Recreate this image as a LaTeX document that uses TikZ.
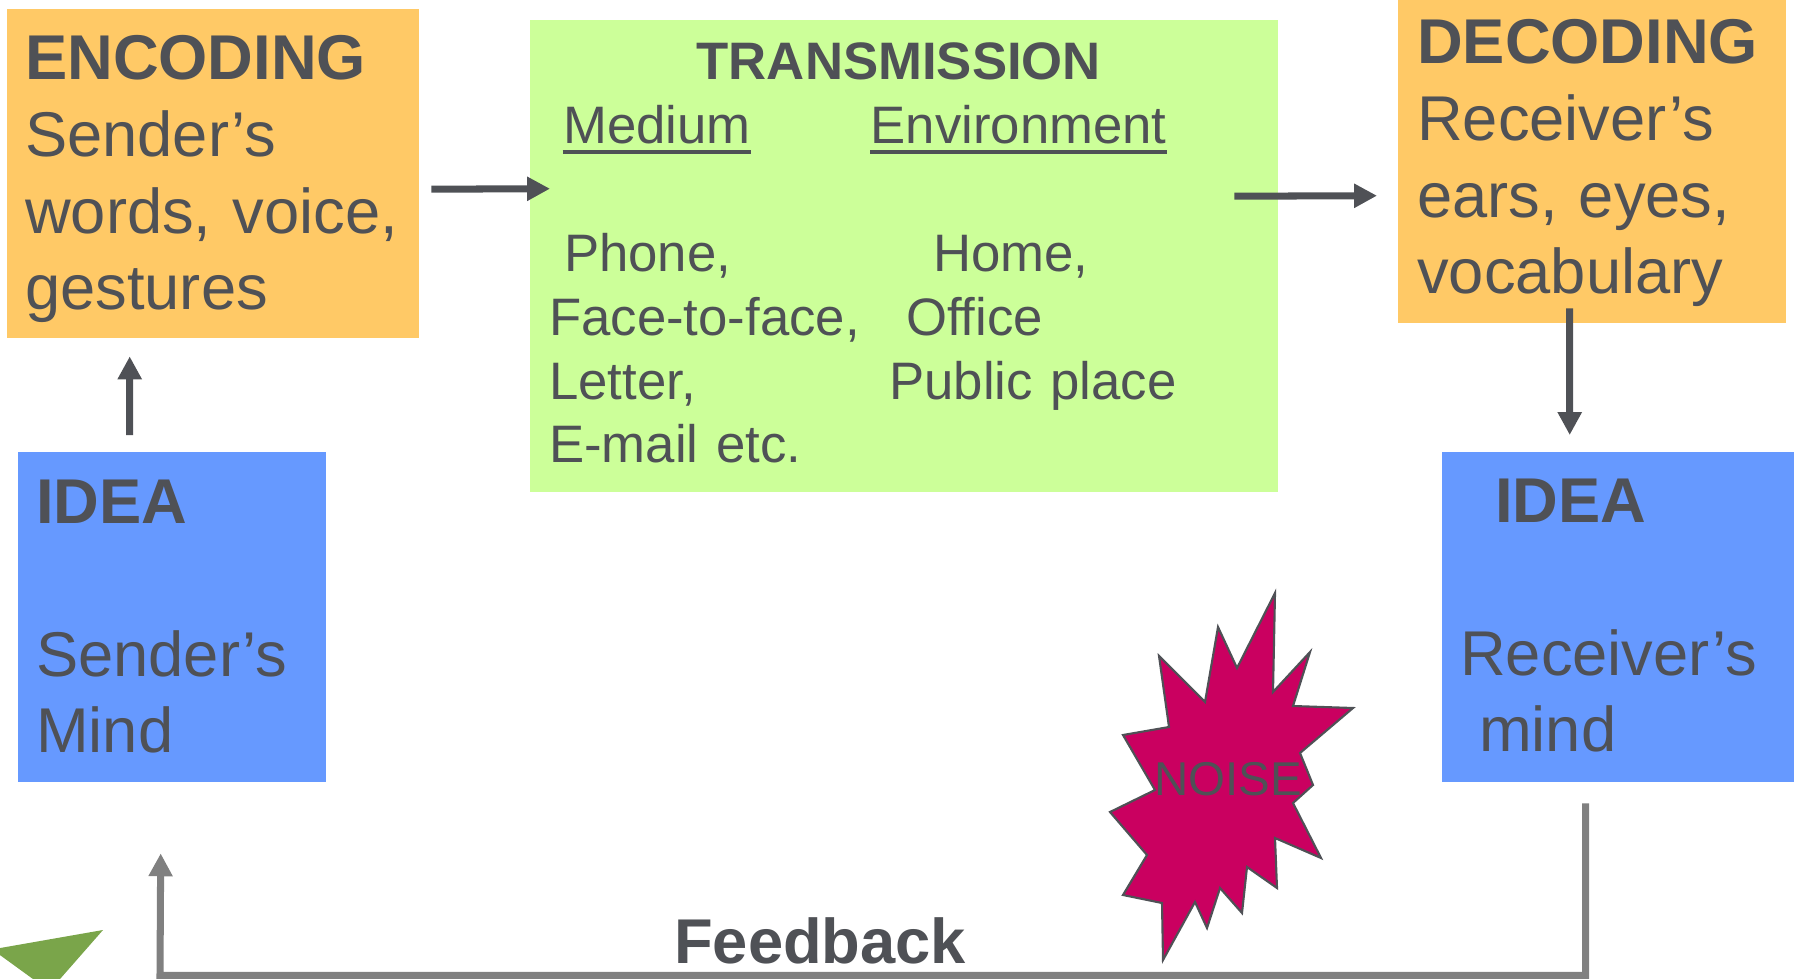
\documentclass[tikz,border=0pt]{standalone}
\usepackage{fontspec}
\setmainfont{Liberation Sans}
\usetikzlibrary{arrows.meta}
\definecolor{encorange}{HTML}{FFC966}
\definecolor{transgreen}{HTML}{CCFF99}
\definecolor{ideablue}{HTML}{6699FF}
\definecolor{txtgray}{HTML}{4F5156}
\definecolor{noisered}{HTML}{CA0060}
\definecolor{fbgray}{HTML}{808080}
\definecolor{leafgreen}{HTML}{7AA54A}

\begin{document}
\begin{tikzpicture}[x=1cm, y=-1cm]
    \tikzstyle{darr}=[line width=2pt, txtgray, -{Triangle[length=6.5pt, width=6.5pt]}]
    \tikzstyle{fbarr}=[line width=2pt, fbgray, line join=miter, -{Triangle[length=6.5pt, width=6.5pt]}]
    \tikzstyle{blk}=[rectangle, inner sep=0pt, anchor=north west]
    \tikzstyle{txt}=[inner sep=0pt, anchor=base west, text=txtgray, font=\fontsize{18pt}{21.8pt}\selectfont]
    \tikzstyle{para}=[txt, text width=5cm, align=left]
    \tikzstyle{tfont}=[font=\fontsize{15pt}{18.1pt}\selectfont]

    \useasboundingbox (0, 0) rectangle (17.96, 9.79);

    % boxes
    \node[blk, fill=encorange, minimum width=4.12cm, minimum height=3.29cm] (enc) at (0.06, 0.08) {};
    \node[blk, fill=transgreen, minimum width=7.48cm, minimum height=4.72cm] (trans) at (5.29, 0.19) {};
    \node[blk, fill=encorange, minimum width=3.88cm, minimum height=3.24cm] (dec) at (13.97, -0.02) {};
    \node[blk, fill=ideablue, minimum width=3.08cm, minimum height=3.30cm] (ideaL) at (0.17, 4.51) {};
    \node[blk, fill=ideablue, minimum width=3.52cm, minimum height=3.30cm] (ideaR) at (14.41, 4.51) {};

    % texts in the boxes
    \node[para] (enctxt) at (0.245, 0.80) {\textbf{ENCODING}\\Sender’s\\words, voice,\\gestures};
    \node[para] (dectxt) at (14.165, 0.64) {\textbf{DECODING}\\Receiver’s\\ears, eyes,\\vocabulary};
    \node[para] (ideaLtxt) at (0.355, 5.23) {\textbf{IDEA}\\[21.8pt]Sender’s\\Mind};
    \node[para] (ideaRtxt) at (14.595, 5.22) {\hspace*{0.35cm}\textbf{IDEA}\\[21.8pt]Receiver’s\\\hspace*{0.19cm}mind};

    \node[txt, font=\bfseries\fontsize{15pt}{18.1pt}\selectfont] (transtitle) at (6.96, 0.80) {TRANSMISSION};
    \node[txt, tfont] (medium) at (5.625, 1.44) {Medium};
    \node[txt, tfont] (environ) at (8.70, 1.44) {Environment};
    \draw[txtgray, line width=1pt] ([yshift=-2.3pt]medium.base west) -- ([yshift=-2.3pt]medium.base east);
    \draw[txtgray, line width=1pt] ([yshift=-2.3pt]environ.base west) -- ([yshift=-2.3pt]environ.base east);
    \node[para, tfont] (medlist) at (5.485, 2.72) {\hspace*{0.15cm}Phone,\\Face-to-face,\\Letter,\\E-mail etc.};
    \node[para, tfont] (envlist) at (8.885, 2.72) {\hspace*{0.44cm}Home,\\\hspace*{0.17cm}Office\\Public place};

    % arrows
    \draw[darr] ([shift={(0.12,0.16)}]enc.east) -- ([shift={(0.21,-0.67)}]trans.west);
    \draw[darr] ([shift={(-0.44,-0.595)}]trans.east) -- ([shift={(-0.20,0.35)}]dec.west);
    \draw[darr] ([shift={(-0.42,-0.16)}]ideaL.north) -- ([shift={(-0.83,0.18)}]enc.south);
    \draw[darr] ([shift={(-0.22,-0.15)}]dec.south) -- ([shift={(-0.48,-0.16)}]ideaR.north);

    % feedback loop
    \coordinate (fbturn) at (1.60, 9.755);
    \draw[fbarr] ([shift={(-0.32,0.21)}]ideaR.south) |- (fbturn) -- ([shift={(-0.11,0.71)}]ideaL.south);
    \node[txt, font=\bfseries\fontsize{18pt}{21.8pt}\selectfont] (feedback) at (6.735, 9.63) {Feedback};

    % noise
    \filldraw[fill=noisered, draw=txtgray, line width=0.6pt]
        (12.75,5.93) -- (12.73,6.92) -- (13.10,6.52) -- (12.93,7.06) -- (13.53,7.08) -- (13.00,7.53)
        -- (13.13,7.85) -- (12.93,8.03) -- (13.21,8.58) -- (12.75,8.38) -- (12.77,8.88) -- (12.47,8.67)
        -- (12.42,9.13) -- (12.20,8.88) -- (12.07,9.28) -- (11.95,9.02) -- (11.63,9.60) -- (11.62,9.03)
        -- (11.23,8.95) -- (11.47,8.55) -- (11.10,8.12) -- (11.55,7.90) -- (11.23,7.35) -- (11.69,7.27)
        -- (11.59,6.56) -- (12.05,7.02) -- (12.18,6.27) -- (12.37,6.68) -- cycle;
    \node[inner sep=0pt, anchor=base, text=txtgray, font=\fontsize{13.5pt}{16pt}\selectfont] (noise) at (12.28, 7.95) {NOISE};

    \fill[leafgreen] (-0.078, 9.494) -- (1.03, 9.30) -- (0.495, 9.91) -- cycle;
\end{tikzpicture}
\end{document}
